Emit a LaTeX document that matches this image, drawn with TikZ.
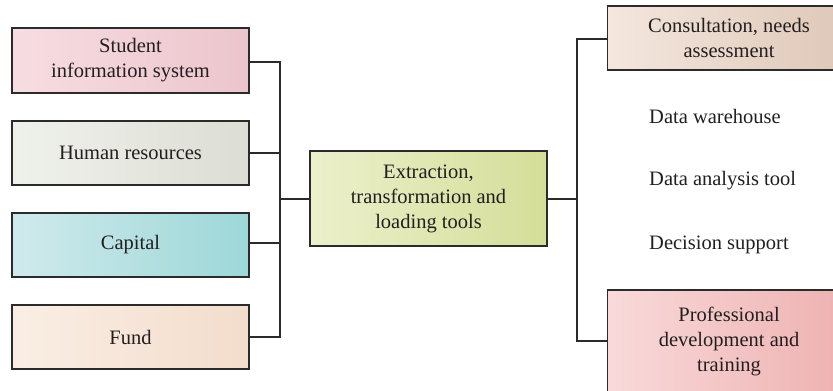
\documentclass[tikz,border=0pt]{standalone}
\usepackage{fontspec}
\setmainfont{Liberation Serif}
\definecolor{txt}{HTML}{231F20}
\definecolor{lnc}{HTML}{2B2B2B}
\tikzset{
  box/.style={draw=lnc, line width=1.1pt, text=txt, align=center, inner sep=0pt,
    font=\fontsize{20.5}{25}\selectfont\frenchspacing},
  plain/.style={text=txt, font=\fontsize{20.5}{25}\selectfont, inner sep=0pt, anchor=west},
  conn/.style={draw=lnc, line width=1.1pt}
}
\begin{document}
\begin{tikzpicture}[x=1pt,y=-1pt]
\useasboundingbox (0,0) rectangle (833,391);
% left boxes
\shade[left color={rgb,255:red,247;green,221;blue,226}, right color={rgb,255:red,236;green,197;blue,204}] (12,28) rectangle (249,93);
\node[box, minimum width=237pt, minimum height=65pt] (sis) at (130.5,60.5) {\raisebox{0pt}[\height][\depth]{Student}\\information system};
\shade[left color={rgb,255:red,239;green,241;blue,235}, right color={rgb,255:red,220;green,222;blue,213}] (12,121) rectangle (249,185);
\node[box, minimum width=237pt, minimum height=64pt] (hr) at (130.5,153) {Human resources};
\shade[left color={rgb,255:red,208;green,234;blue,236}, right color={rgb,255:red,157;green,215;blue,216}] (12,213) rectangle (249,277);
\node[box, minimum width=237pt, minimum height=64pt] (cap) at (130.5,245) {Capital};
\shade[left color={rgb,255:red,250;green,238;blue,228}, right color={rgb,255:red,243;green,221;blue,204}] (12,305) rectangle (249,369);
\node[box, minimum width=237pt, minimum height=64pt] (fund) at (130.5,337) {Fund};
% centre
\shade[left color={rgb,255:red,236;green,240;blue,204}, right color={rgb,255:red,212;green,222;blue,152}] (310,151) rectangle (547,246);
\node[box, minimum width=237pt, minimum height=95pt] (etl) at (428.5,198.5) {Extraction,\\transformation and\\loading tools};
% right boxes
\shade[left color={rgb,255:red,244;green,231;blue,222}, right color={rgb,255:red,222;green,199;blue,183}] (607,6) rectangle (850,70);
\node[box, minimum width=243pt, minimum height=64pt, anchor=west] (cons) at (607,38) {Consultation, needs\\assessment};
\shade[left color={rgb,255:red,249;green,218;blue,218}, right color={rgb,255:red,238;green,176;blue,176}] (607,290) rectangle (850,392);
\node[box, minimum width=243pt, minimum height=102pt, anchor=west] (prof) at (607,341) {Professional\\development and\\training};
\node[plain] (dw) at (649,116) {Data warehouse};
\node[plain] (dat) at (649,181) {Data analysis tool};
\node[plain] (ds) at (649,245) {Decision support};
% connectors
\coordinate (lj) at (280,199);
\coordinate (rj) at (577,199);
\draw[conn] (sis.east |- 0,62) -| (lj);
\draw[conn] (hr.east) -| (lj);
\draw[conn] (cap.east |- 0,243) -| (lj);
\draw[conn] (fund.east) -| (lj);
\draw[conn] (lj) -- (etl.west |- lj);
\draw[conn] (etl.east |- rj) -- (rj);
\draw[conn] (cons.west |- 0,39) -| (rj);
\draw[conn] (prof.west) -| (rj);
\end{tikzpicture}
\end{document}
